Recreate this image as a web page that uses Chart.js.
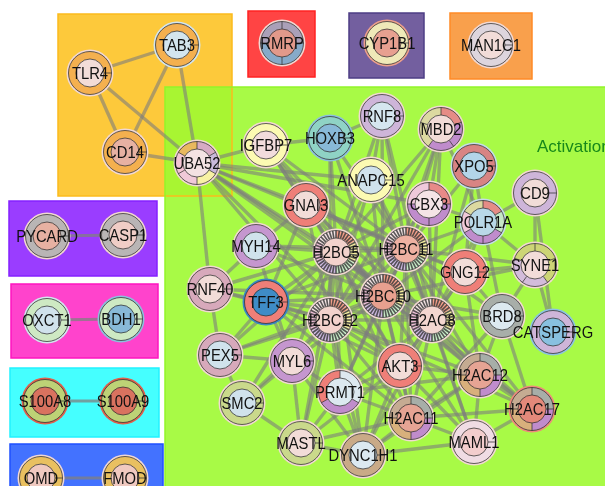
<!DOCTYPE html>
<html>
<head>
<meta charset="utf-8">
<script src="https://cdn.jsdelivr.net/npm/chart.js@4.4.0/dist/chart.umd.min.js"></script>
<style>
  body { margin: 0; background: #fff; }
  #wrap { width: 605px; height: 486px; }
</style>
</head>
<body>
<div id="wrap"><canvas id="net" width="605" height="486"></canvas></div>
<script>
// node list, layout coordinates
var nodeNames = ['TAB3','TLR4','CD14','UBA52','RMRP','CYP1B1','MAN1C1','IGFBP7','HOXB3','RNF8','MBD2','XPO5','CD9',
  'ANAPC15','GNAI3','CBX3','POLR1A','MYH14','H2BC5','H2BC11','GNG12','SYNE1','RNF40','TFF3','H2BC10','H2BC12','H2AC8',
  'BRD8','CATSPERG','PEX5','MYL6','AKT3','PRMT1','H2AC12','SMC2','H2AC11','H2AC17','MASTL','DYNC1H1','MAML1',
  'PYCARD','CASP1','OXCT1','BDH1','S100A8','S100A9','OMD','FMOD'];
var nodeX = [177,90,125,197,282,387,491,266,330,382,441,474,535,
  371,306,429,483,256,336,406,465,535,210,266,383,330,432,
  502,553,220,292,400,340,480,242,411,532,301,363,474,
  47,123,47,121,45,123,41,125];
var nodeY = [45,73,152,163,43,43,45,145,138,116,129,166,193,
  180,205,204,222,246,252,249,272,265,289,302,296,320,320,
  316,332,355,361,366,392,375,403,418,409,443,455,442,
  236,235,320,319,401,401,478,478];

// interactions
var edges = [
  ['TLR4','TAB3'],['TLR4','CD14'],['TLR4','UBA52'],['TAB3','CD14'],['TAB3','UBA52'],['CD14','UBA52'],
  ['PYCARD','CASP1'],['OXCT1','BDH1'],['S100A8','S100A9'],['OMD','FMOD'],
  ['UBA52','IGFBP7'],['UBA52','RNF40'],['UBA52','GNAI3'],['UBA52','H2BC5'],['UBA52','H2BC11'],['UBA52','H2BC10'],
  ['UBA52','H2BC12'],['UBA52','H2AC8'],['UBA52','ANAPC15'],['UBA52','CBX3'],['UBA52','AKT3'],
  ['IGFBP7','HOXB3'],['IGFBP7','H2BC5'],['IGFBP7','H2BC11'],['IGFBP7','H2BC10'],['IGFBP7','H2AC8'],['IGFBP7','GNAI3'],
  ['HOXB3','RNF8'],['HOXB3','H2BC5'],['HOXB3','H2BC11'],['HOXB3','H2BC10'],['HOXB3','H2BC12'],
  ['RNF8','H2BC5'],['RNF8','H2BC11'],['RNF8','H2BC10'],['RNF8','H2AC8'],['RNF8','ANAPC15'],
  ['MBD2','H2BC11'],['MBD2','H2BC10'],['MBD2','H2AC8'],['MBD2','CBX3'],['MBD2','POLR1A'],['MBD2','H2BC5'],['MBD2','H2BC12'],
  ['XPO5','POLR1A'],['XPO5','H2BC11'],['XPO5','H2AC8'],['XPO5','GNG12'],
  ['CD9','POLR1A'],['CD9','SYNE1'],['CD9','CATSPERG'],
  ['ANAPC15','H2BC5'],['ANAPC15','H2BC11'],['ANAPC15','H2BC10'],['ANAPC15','H2BC12'],['ANAPC15','H2AC8'],
  ['GNAI3','H2BC5'],['GNAI3','H2BC11'],['GNAI3','H2BC10'],['GNAI3','H2BC12'],['GNAI3','H2AC8'],['GNAI3','GNG12'],
  ['GNAI3','AKT3'],['GNAI3','MYH14'],['GNAI3','TFF3'],
  ['CBX3','H2BC5'],['CBX3','H2BC11'],['CBX3','H2BC10'],['CBX3','H2BC12'],['CBX3','H2AC8'],['CBX3','POLR1A'],
  ['POLR1A','H2BC11'],['POLR1A','H2BC10'],['POLR1A','H2AC8'],['POLR1A','GNG12'],['POLR1A','SYNE1'],['POLR1A','BRD8'],
  ['MYH14','H2BC5'],['MYH14','H2BC10'],['MYH14','MYL6'],['MYH14','H2BC11'],
  ['H2BC5','H2BC11'],['H2BC5','H2BC10'],['H2BC5','H2BC12'],['H2BC5','H2AC8'],['H2BC5','H2AC12'],['H2BC5','H2AC11'],
  ['H2BC5','H2AC17'],['H2BC5','AKT3'],['H2BC5','PRMT1'],['H2BC5','TFF3'],['H2BC5','RNF40'],['H2BC5','MYL6'],
  ['H2BC5','PEX5'],['H2BC5','DYNC1H1'],['H2BC5','MASTL'],['H2BC5','SMC2'],
  ['H2BC11','H2BC10'],['H2BC11','H2BC12'],['H2BC11','H2AC8'],['H2BC11','H2AC12'],['H2BC11','H2AC11'],['H2BC11','H2AC17'],
  ['H2BC11','AKT3'],['H2BC11','PRMT1'],['H2BC11','GNG12'],['H2BC11','BRD8'],['H2BC11','MAML1'],['H2BC11','TFF3'],['H2BC11','SYNE1'],
  ['H2BC10','H2BC12'],['H2BC10','H2AC8'],['H2BC10','H2AC12'],['H2BC10','H2AC11'],['H2BC10','H2AC17'],['H2BC10','AKT3'],
  ['H2BC10','PRMT1'],['H2BC10','BRD8'],['H2BC10','MAML1'],['H2BC10','TFF3'],['H2BC10','DYNC1H1'],['H2BC10','MYL6'],
  ['H2BC10','RNF40'],['H2BC10','PEX5'],['H2BC10','SYNE1'],
  ['H2BC12','H2AC8'],['H2BC12','H2AC12'],['H2BC12','H2AC11'],['H2BC12','H2AC17'],['H2BC12','AKT3'],['H2BC12','PRMT1'],
  ['H2BC12','TFF3'],['H2BC12','RNF40'],['H2BC12','PEX5'],['H2BC12','MYL6'],['H2BC12','SMC2'],['H2BC12','MASTL'],['H2BC12','DYNC1H1'],
  ['H2AC8','H2AC12'],['H2AC8','H2AC11'],['H2AC8','H2AC17'],['H2AC8','AKT3'],['H2AC8','PRMT1'],['H2AC8','BRD8'],
  ['H2AC8','GNG12'],['H2AC8','MAML1'],['H2AC8','DYNC1H1'],['H2AC8','TFF3'],
  ['GNG12','AKT3'],['GNG12','SYNE1'],['GNG12','BRD8'],['GNG12','H2AC12'],
  ['SYNE1','CATSPERG'],['SYNE1','BRD8'],
  ['BRD8','H2AC12'],['BRD8','H2AC17'],['BRD8','H2AC11'],
  ['TFF3','RNF40'],['TFF3','PEX5'],['TFF3','MYL6'],['TFF3','H2AC11'],['TFF3','AKT3'],
  ['RNF40','PEX5'],['RNF40','MYH14'],
  ['PEX5','SMC2'],['PEX5','MYL6'],
  ['MYL6','SMC2'],['MYL6','MASTL'],['MYL6','PRMT1'],['MYL6','DYNC1H1'],
  ['AKT3','PRMT1'],['AKT3','H2AC12'],['AKT3','H2AC11'],['AKT3','MAML1'],['AKT3','DYNC1H1'],['AKT3','MASTL'],
  ['PRMT1','H2AC11'],['PRMT1','DYNC1H1'],['PRMT1','MASTL'],['PRMT1','H2AC12'],
  ['H2AC12','H2AC11'],['H2AC12','H2AC17'],['H2AC12','MAML1'],['H2AC12','DYNC1H1'],
  ['SMC2','MASTL'],
  ['H2AC11','H2AC17'],['H2AC11','MAML1'],['H2AC11','DYNC1H1'],['H2AC11','MASTL'],
  ['H2AC17','MAML1'],['MASTL','DYNC1H1'],['DYNC1H1','MAML1']
];

// group boxes: x0, y0, x1, y1 in layout units
var groupNames = ['orange','green','red','slate','amber','violet','magenta','cyan','blue'];
var groupX0 = [58, 165, 248, 349, 450, 9, 11, 10, 10];
var groupY0 = [14, 87, 11, 13, 13, 201, 284, 368, 444];
var groupX1 = [232, 610, 315, 424, 532, 157, 158, 159, 163];
var groupY1 = [196, 490, 77, 78, 79, 276, 358, 437, 492];
var groupFill = ['#fdc93b','rgba(158,250,50,0.9)','#ff4444','#735f9f','#f9a04c','#9a3dff','#ff43cc','#45ffff','#4372ff'];
var groupLine = ['#fbbb1c','#92f52a','#ff2222','#4d3e85','#ff8a26','#8520ff','#ff14c0','#22f2ff','#1f50ff'];

// ring colours per node
var col = {
  orange:'#f4b04f', pink:'#f2dcd8', lblue:'#d0e2ec', salmon:'#e7b1a2', red:'#ef7f78', purple:'#c596cf',
  lav:'#ceb5d9', yel:'#fcfab2', teal:'#8fd3c5', blue:'#86b8d9', grey:'#a8aea9', olive:'#cad98b', tan:'#c9aa87',
  mauve:'#d7a9bb', pgreen:'#cee9c3', khaki:'#dcd9a0', gold:'#e9c060', ltgrey:'#ddd5dd', steel:'#3f8cc6'
};
var ringColors = {
  TAB3:[col.orange], TLR4:[col.orange], CD14:[col.orange],
  UBA52:['#d7abc3','#c9b9da','#f8f2a4','#f0c9d8','#f3c4d3','#e9b95e'],
  RMRP:['#aaa0b8','#86aac9','#86aac9','#aaa0b8'], CYP1B1:['#efe9b8'], MAN1C1:[col.ltgrey],
  IGFBP7:[col.yel], HOXB3:[col.teal], RNF8:[col.lav],
  MBD2:['#e58c86','#c08ccc','#c08ccc','#dcd9a0','#dcd9a0'], XPO5:['#d88483'], CD9:[col.lav],
  ANAPC15:[col.yel], GNAI3:[col.red], CBX3:['#e88a88','#c08ccc','#c08ccc','#efc9db'],
  POLR1A:['#e58c86','#c5e6c5','#c08ccc','#c08ccc','#f0c9d8','#dcd9a0'], MYH14:[col.purple],
  GNG12:[col.red], SYNE1:['#cdd576','#cdd576','#d3bcdb','#d3bcdb','#cdd576'], RNF40:[col.mauve],
  TFF3:[col.red], BRD8:[col.grey], CATSPERG:[col.lav], PEX5:[col.mauve], MYL6:[col.purple], AKT3:[col.red],
  PRMT1:['#dde9f0','#c08ccc','#ef7f78'], H2AC12:['#a7aea8','#c08ccc','#d8b07c','#c5ab92'],
  SMC2:[col.olive], H2AC11:['#a7aea8','#c08ccc','#d8b07c','#c5ab92'], H2AC17:['#a7aea8','#c08ccc','#d8b07c','#c5ab92'],
  MASTL:[col.olive], DYNC1H1:[col.tan], MAML1:['#f0dce4'],
  PYCARD:['#b9b5b5'], CASP1:['#b9b5b5'], OXCT1:[col.pgreen], BDH1:[col.pgreen],
  S100A8:['#bdd276'], S100A9:['#bdd276'], OMD:[col.gold], FMOD:[col.gold]
};
var innerColors = {
  TAB3:'#d3e5ee', TLR4:col.pink, CD14:col.salmon, UBA52:'#f3e2e2', RMRP:'#e2998a', CYP1B1:'#e7a090', MAN1C1:col.pink,
  IGFBP7:'#f2dcdc', HOXB3:'#88b9d8', RNF8:'#d5e6ef', MBD2:col.pink, XPO5:'#b3d5e8', CD9:col.pink,
  ANAPC15:col.lblue, GNAI3:col.pink, CBX3:'#f5e4e6', POLR1A:'#b9d8e8', MYH14:col.lblue, GNG12:col.pink,
  SYNE1:col.pink, RNF40:col.pink, TFF3:col.steel, BRD8:'#dce9f0', CATSPERG:'#88c0e0', PEX5:col.lblue,
  MYL6:col.pink, AKT3:col.pink, PRMT1:'#dce9f0', H2AC12:'#e6a494', SMC2:col.lblue, H2AC11:'#e6a494',
  H2AC17:'#e3897a', MASTL:col.pink, DYNC1H1:'#dce9f0', MAML1:'#f3cdcd', PYCARD:col.salmon, CASP1:'#f0cdc6',
  OXCT1:col.lblue, BDH1:'#88b9d8', S100A8:'#d9725f', S100A9:'#d9725f', OMD:'#f0c9c0', FMOD:'#f0c9c0',
  H2BC5:'#f2d2cc', H2BC11:'#eeb1a2', H2BC10:'#e8a08f', H2BC12:'#f2d2cc', H2AC8:'#f3d6d0'
};
var haloColors = {
  TFF3:'#3a86c4', CATSPERG:'#8cc2e2', HOXB3:'#8cc0dc', BDH1:'#8cc0dc', S100A8:'#e0604c', S100A9:'#e0604c',
  CYP1B1:'#eea08c', H2AC17:'#ef8a7c', TAB3:'#d3e5ee', OXCT1:'#d3e5ee', POLR1A:'#c5dce8', XPO5:'#c5dce8'
};
var striped = ['H2BC5','H2BC11','H2BC10','H2BC12','H2AC8'];
var stripeColors = ['#f6a08a','#f7f0a0','#c8ecc8','#cdb8e0','#f0c0d8','#f4e4e4'];

function idx(name) { return nodeNames.indexOf(name); }

var edgeSets = edges.map(function (e) {
  var a = idx(e[0]), b = idx(e[1]);
  var inBox = ['PYCARD','OXCT1','S100A8','OMD'].indexOf(e[0]) >= 0;
  return {
    type: 'line',
    data: [{x: nodeX[a], y: nodeY[a]}, {x: nodeX[b], y: nodeY[b]}],
    borderColor: inBox ? 'rgba(128,128,128,0.75)' : 'rgba(125,125,125,0.6)',
    borderWidth: inBox ? 3 : 3.4,
    pointRadius: 0,
    showLine: true,
    fill: false
  };
});

var boxPlugin = {
  id: 'boxes',
  beforeDatasetsDraw: function (chart) {
    var ctx = chart.ctx, xs = chart.scales.x, ys = chart.scales.y;
    ctx.save();
    for (var i = 0; i < groupNames.length; i++) {
      var x0 = xs.getPixelForValue(groupX0[i]), x1 = xs.getPixelForValue(groupX1[i]);
      var y0 = ys.getPixelForValue(groupY0[i]), y1 = ys.getPixelForValue(groupY1[i]);
      ctx.fillStyle = groupFill[i];
      ctx.fillRect(x0, y0, x1 - x0, y1 - y0);
    }
    for (var j = 0; j < groupNames.length; j++) {
      var a0 = xs.getPixelForValue(groupX0[j]), a1 = xs.getPixelForValue(groupX1[j]);
      var b0 = ys.getPixelForValue(groupY0[j]), b1 = ys.getPixelForValue(groupY1[j]);
      ctx.strokeStyle = groupLine[j];
      ctx.lineWidth = 1.5;
      ctx.strokeRect(a0, b0, a1 - a0, b1 - b0);
    }
    ctx.fillStyle = '#17891a';
    ctx.font = '17px "Liberation Sans", Arial, sans-serif';
    ctx.textBaseline = 'middle';
    ctx.fillText('Activation', xs.getPixelForValue(537), ys.getPixelForValue(147));
    ctx.restore();
  }
};

var nodePlugin = {
  id: 'nodes',
  afterDatasetsDraw: function (chart) {
    var ctx = chart.ctx, xs = chart.scales.x, ys = chart.scales.y;
    var rHalo = 23.5, rRing = 21.5, rIn = 14;
    ctx.save();
    nodeNames.forEach(function (name, i) {
      var cx = xs.getPixelForValue(nodeX[i]), cy = ys.getPixelForValue(nodeY[i]);
      var inner = innerColors[name];
      ctx.beginPath();
      ctx.arc(cx, cy, rHalo, 0, Math.PI * 2);
      ctx.fillStyle = haloColors[name] || '#f2d8d2';
      ctx.fill();

      var isStriped = striped.indexOf(name) >= 0;
      var segs = isStriped ? stripeColors : ringColors[name];
      var n = segs.length;
      var start = n === 1 ? 0 : -Math.PI / 2;
      for (var k = 0; k < n; k++) {
        var a0 = start + k * 2 * Math.PI / n, a1 = start + (k + 1) * 2 * Math.PI / n;
        ctx.beginPath();
        ctx.moveTo(cx, cy);
        ctx.arc(cx, cy, rRing, a0, a1);
        ctx.closePath();
        ctx.fillStyle = segs[k];
        ctx.fill();
      }
      ctx.strokeStyle = 'rgba(50,50,50,0.85)';
      ctx.lineWidth = 0.9;
      if (isStriped) {
        for (var s = 0; s < 40; s++) {
          var ang = s * 2 * Math.PI / 40;
          ctx.beginPath();
          ctx.moveTo(cx + Math.cos(ang) * rIn, cy + Math.sin(ang) * rIn);
          ctx.lineTo(cx + Math.cos(ang) * rRing, cy + Math.sin(ang) * rRing);
          ctx.lineWidth = 1.6;
          ctx.strokeStyle = 'rgba(60,60,60,0.85)';
          ctx.stroke();
        }
        ctx.lineWidth = 0.9;
      } else {
        for (var m = 0; m < n; m++) {
          var an = start + m * 2 * Math.PI / n;
          ctx.beginPath();
          ctx.moveTo(cx + Math.cos(an) * rIn, cy + Math.sin(an) * rIn);
          ctx.lineTo(cx + Math.cos(an) * rRing, cy + Math.sin(an) * rRing);
          ctx.stroke();
        }
      }
      ctx.beginPath();
      ctx.arc(cx, cy, rRing, 0, Math.PI * 2);
      ctx.stroke();
      ctx.beginPath();
      ctx.arc(cx, cy, rIn, 0, Math.PI * 2);
      ctx.fillStyle = inner;
      ctx.fill();
      ctx.stroke();
    });
    // labels: tall, slightly condensed type as in the reference
    ctx.fillStyle = '#111';
    ctx.font = '17px "Liberation Sans", Arial, sans-serif';
    ctx.textAlign = 'center';
    ctx.textBaseline = 'middle';
    nodeNames.forEach(function (name, i) {
      var lx = xs.getPixelForValue(nodeX[i]), ly = ys.getPixelForValue(nodeY[i]) + 1.5;
      ctx.save();
      ctx.translate(lx, ly);
      ctx.scale(0.87, 1);
      ctx.fillText(name, 0, 0);
      ctx.restore();
    });
    ctx.restore();
  }
};

new Chart(document.getElementById('net').getContext('2d'), {
  type: 'scatter',
  data: { datasets: edgeSets },
  options: {
    responsive: false,
    animation: false,
    layout: { padding: 0 },
    plugins: { legend: { display: false }, tooltip: { enabled: false } },
    scales: {
      x: { type: 'linear', min: 0, max: 605, display: false },
      y: { type: 'linear', min: 0, max: 486, reverse: true, display: false }
    }
  },
  plugins: [boxPlugin, nodePlugin]
});
</script>
</body>
</html>
